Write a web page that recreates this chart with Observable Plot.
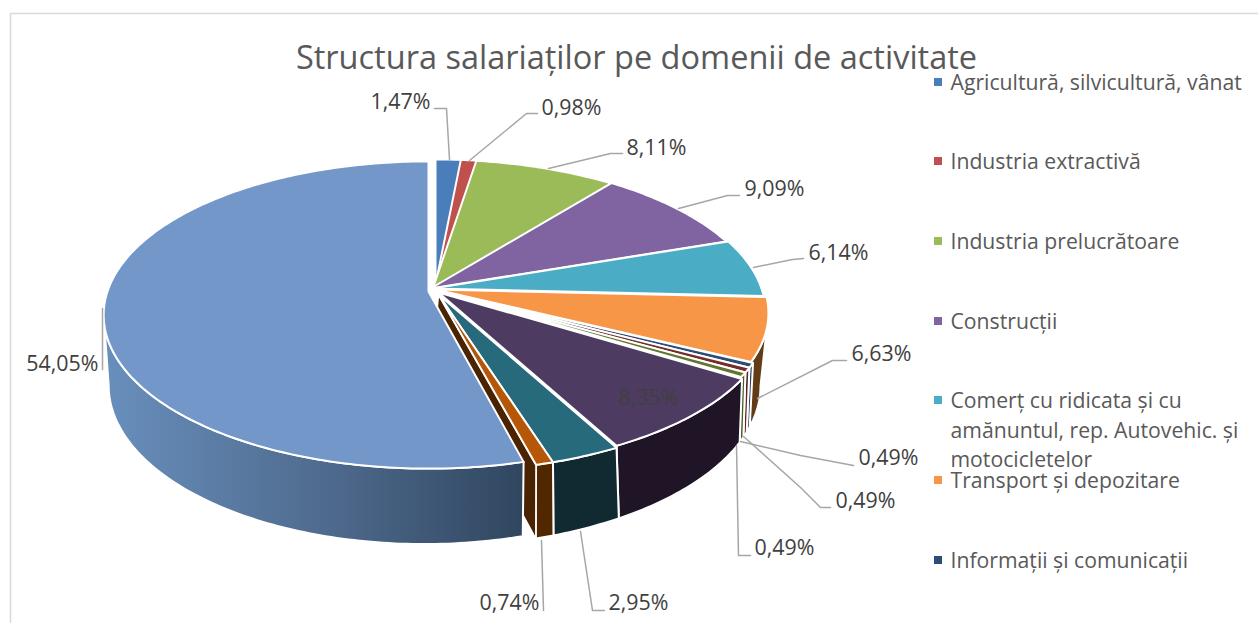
<!DOCTYPE html>
<html><head><meta charset="utf-8">
<script src="https://cdn.jsdelivr.net/npm/d3@7"></script>
<script src="https://cdn.jsdelivr.net/npm/@observablehq/plot@0.6"></script>
<style>html,body{margin:0;padding:0;background:#fff;overflow:hidden}svg{display:block}</style>
</head><body><div id="chart"></div>
<script>
// ---- data ----
const titleText = "Structura salariaților pe domenii de activitate";
const values = [1.47, 0.98, 8.11, 9.09, 6.14, 6.63, 0.49, 0.49, 0.49, 8.35, 2.95, 0.74, 54.05];
const legendNames = [
  ["Agricultură, silvicultură, vânat"],
  ["Industria extractivă"],
  ["Industria prelucrătoare"],
  ["Construcții"],
  ["Comerț cu ridicata și cu", "amănuntul, rep. Autovehic. și", "motocicletelor"],
  ["Transport și depozitare"],
  ["Informații și comunicații"]
];
// ---- styles ----
const topColors  = ["#4a7ebb","#c0504d","#9bbb59","#8064a2","#4bacc6","#f79646","#2c4d75","#772c2a","#5f7530","#4d3b62","#276a7c","#b65708","#7297c8"];
const wallColors = ["#2c4d75","#772c2a","#5f7530","#4d3b62","#276a7c","#633b14","#2a4364","#5e2322","#4c5e26","#1f1526","#112a31","#512700","url(#mainWall)"];
// per-slice nudge of the top face [dx, dy, dR]
const nudge = [[4,-1,0],[3,-1,0],[1,-1,0],[-1,-2,0],[1,-2,0],[4,-1,0],[6,0,0],[6,0,0],[6,0,0],[7,2,0],[7,4,0],[7,4,0],[-3,1,-8]];
const topPlane = {cx:431, cy:290, R:329, S:150, k:0.153};
const botPlane = {cx:433, cy:350, R:319, S:153, k:0.22};
const mainBot  = {cx:423.6, cy:350, R:307.7, S:151, k:0.22};
// label layout: text start x, centre y, anchor; leader polyline
const labelLayout = [
  {x:430,y:101,a:"end",  l:[[434,108],[446,108],[449,159]]},
  {x:541,y:107,a:"start",l:[[537,113],[526,113],[469,160]]},
  {x:626,y:147,a:"start",l:[[622,153],[610,153],[548,168]]},
  {x:744,y:188,a:"start",l:[[739,195],[727,195],[678,208]]},
  {x:808,y:252,a:"start",l:[[803,258],[792,259],[753,267]]},
  {x:851,y:353,a:"start",l:[[846,360],[832,360],[757,398]]},
  {x:858,y:457,a:"start",l:[[853,465],[800,455],[740,441]]},
  {x:835,y:500,a:"start",l:[[830,507],[820,507],[800,487],[743,436]]},
  {x:754,y:547,a:"start",l:[[750,555],[738,555],[736,445]]},
  {x:618,y:397,a:"start",l:null},
  {x:608,y:602,a:"start",l:[[604,610],[592,610],[580,531]]},
  {x:539,y:602,a:"end",  l:[[543,610],[541,540]]},
  {x:98, y:363,a:"end",  l:[[102,369],[102,308]]}
];
const legendY = [[82],[161],[241],[321],[400,430,459],[480],[560]];
const fontFamily = "'Open Sans', sans-serif";

// ---- geometry ----
const total = d3.sum(values);
const cum = d3.cumsum(values);
const angles = values.map((v,i)=>[(cum[i]-v)/total*2*Math.PI, cum[i]/total*2*Math.PI]);
function proj(p,th,n=[0,0,0]){
  const u=Math.sin(th), v=Math.cos(th), d=1+p.k*v;
  return {x:p.cx+n[0]+(p.R+n[2])*u/d, y:p.cy+n[1]-p.S*v/d};
}
function arc(p,a,b,n){
  const m=Math.max(2,Math.ceil((b-a)/0.015)), out=[];
  for(let i=0;i<=m;i++) out.push(proj(p,a+(b-a)*i/m,n));
  return out;
}
const apexOf=(p,n=[0,0,0])=>({x:p.cx+n[0],y:p.cy+n[1]});
// angles at which a plane's outline is vertical (silhouette of the side wall)
const tangentRight=p=>Math.acos(-p.k);
const tangentLeft=p=>2*Math.PI-Math.acos(-p.k);
const poly=(pts,fill,sw=2)=>Plot.line(pts,{x:"x",y:"y",fill,stroke:"#fff",strokeWidth:sw,curve:"linear-closed",strokeLinejoin:"round"});

const marks=[];
marks.push(()=>{
  const ns="http://www.w3.org/2000/svg";
  const defs=document.createElementNS(ns,"defs");
  const g=document.createElementNS(ns,"linearGradient");
  g.setAttribute("id","mainWall");g.setAttribute("gradientUnits","userSpaceOnUse");
  g.setAttribute("x1",105);g.setAttribute("x2",525);g.setAttribute("y1",0);g.setAttribute("y2",0);
  [["0","#688fbc"],["0.5","#506c90"],["1","#30465f"]].forEach(([o,c])=>{
    const s=document.createElementNS(ns,"stop");s.setAttribute("offset",o);s.setAttribute("stop-color",c);g.appendChild(s);});
  defs.appendChild(g);return defs;
});
// frame
marks.push(Plot.ruleX([10],{y1:13,y2:623,stroke:"#d9d9d9",strokeWidth:1.5}));
marks.push(Plot.ruleY([13],{x1:10,x2:1258,stroke:"#d9d9d9",strokeWidth:1.5}));
// walls, back to front on the right side; the slice holding the right silhouette runs to the tangents
values.forEach((v,i)=>{
  if(i===12) return;
  const [a,b]=angles[i], n=nudge[i];
  if(b<=tangentRight(topPlane)) return;
  const ta=Math.max(a,tangentRight(topPlane)), ba=Math.max(a,tangentRight(botPlane));
  const t=arc(topPlane,ta,b,n), lo=arc(botPlane,ba,b);
  marks.push(poly([...t,...lo.reverse()],wallColors[i]));
});
// exposed radial face of the slice next to the big one
{
  const i=11, b=angles[i][1], n=nudge[i];
  marks.push(poly([apexOf(topPlane,n),proj(topPlane,b,n),proj(botPlane,b),apexOf(botPlane)],"#4a2400",1.5));
}
// the big slice's wall runs up to the left silhouette
{
  const a=angles[12][0], n=nudge[12];
  const t=arc(topPlane,a,tangentLeft(topPlane),n), lo=arc(mainBot,a,tangentLeft(mainBot));
  marks.push(poly([...t,...lo.reverse()],wallColors[12]));
}
// top faces
values.forEach((v,i)=>{
  const [a,b]=angles[i], n=nudge[i];
  marks.push(poly([apexOf(topPlane,n),...arc(topPlane,a,b,n)],topColors[i]));
});
// leaders
labelLayout.forEach(d=>{ if(d.l) marks.push(Plot.line(d.l.map(([x,y])=>({x,y})),{x:"x",y:"y",stroke:"#a6a6a6",strokeWidth:1.5})); });
// data labels
const labelRows=values.map((v,i)=>({...labelLayout[i],t:v.toFixed(2).replace(".",",")+"%"}));
["start","end"].forEach(anchor=>marks.push(Plot.text(labelRows.filter(d=>d.a===anchor),{x:"x",y:"y",dy:1,text:"t",textAnchor:anchor,fill:"#404040",fontSize:21.4,lineAnchor:"middle"})));
// title
marks.push(Plot.text([titleText],{x:()=>636,y:()=>58,text:d=>d,textAnchor:"middle",fill:"#595959",fontSize:32.5,lineAnchor:"middle"}));
// legend
legendNames.forEach((lines,i)=>{
  const sq=[{x1:934,x2:942,y1:legendY[i][0]-4,y2:legendY[i][0]+4}];
  marks.push(Plot.rect(sq,{x1:"x1",x2:"x2",y1:"y1",y2:"y2",fill:topColors[i]}));
  marks.push(Plot.text(lines.map((t,j)=>({t,y:legendY[i][j]})),{x:()=>950,y:"y",dy:1,text:"t",textAnchor:"start",fill:"#595959",fontSize:21.2,lineAnchor:"middle"}));
});

const chart=Plot.plot({
  width:1258,height:623,margin:0,
  x:{domain:[0,1258],range:[0,1258],axis:null},
  y:{domain:[0,623],range:[0,623],axis:null},
  style:{fontFamily,background:"#fff"},
  marks
});
document.getElementById("chart").append(chart);
</script></body></html>
